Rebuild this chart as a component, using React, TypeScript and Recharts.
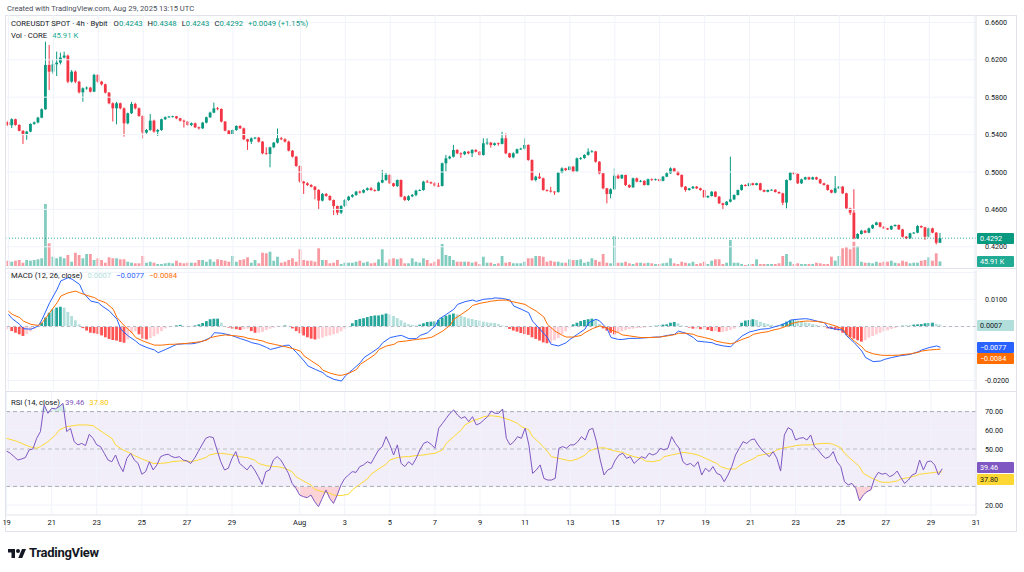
import React from "react";
import { ComposedChart, Bar, Line, Area, XAxis, YAxis, ReferenceLine, ReferenceArea, Cell } from "recharts";

const UP = "#089981";
const DOWN = "#f23645";
const GRID = "#f0f3fa";
const AXIS = "#e0e3eb";
const TEXT = "#131722";
const FONT = "Roboto, 'Liberation Sans', sans-serif";

// COREUSDT 4h candles, Jul 19 00:00 -> Aug 29 12:00
const opens = [
  0.5535, 0.5500, 0.5564, 0.5503, 0.5440, 0.5407, 0.5432, 0.5514, 0.5530, 0.5581,
  0.5671, 0.6145, 0.6073, 0.6152, 0.6170, 0.6223, 0.6245, 0.5966, 0.6073, 0.5966,
  0.5852, 0.5895, 0.5902, 0.5859, 0.6038, 0.5966, 0.5938, 0.5849, 0.5735, 0.5681,
  0.5735, 0.5681, 0.5521, 0.5628, 0.5728, 0.5681, 0.5599, 0.5421, 0.5449, 0.5549,
  0.5432, 0.5449, 0.5564, 0.5585, 0.5592, 0.5596, 0.5574, 0.5549, 0.5539, 0.5503,
  0.5521, 0.5478, 0.5467, 0.5528, 0.5585, 0.5635, 0.5681, 0.5674, 0.5539, 0.5442,
  0.5403, 0.5449, 0.5492, 0.5467, 0.5350, 0.5325, 0.5360, 0.5367, 0.5325, 0.5200,
  0.5193, 0.5264, 0.5314, 0.5360, 0.5350, 0.5325, 0.5228, 0.5164, 0.5064, 0.4897,
  0.4879, 0.4861, 0.4843, 0.4808, 0.4694, 0.4765, 0.4744, 0.4700, 0.4636, 0.4565,
  0.4636, 0.4700, 0.4736, 0.4754, 0.4790, 0.4780, 0.4807, 0.4825, 0.4807, 0.4800,
  0.4886, 0.4914, 0.4968, 0.4879, 0.4850, 0.4914, 0.4736, 0.4700, 0.4740, 0.4754,
  0.4800, 0.4807, 0.4897, 0.4890, 0.4879, 0.4854, 0.4850, 0.5093, 0.5146, 0.5164,
  0.5235, 0.5200, 0.5190, 0.5217, 0.5200, 0.5235, 0.5217, 0.5182, 0.5307, 0.5314,
  0.5289, 0.5307, 0.5300, 0.5360, 0.5200, 0.5157, 0.5200, 0.5243, 0.5250, 0.5289,
  0.5128, 0.4914, 0.4950, 0.4932, 0.4807, 0.4800, 0.4790, 0.4785, 0.4993, 0.5039,
  0.5021, 0.5057, 0.5004, 0.5146, 0.5150, 0.5182, 0.5217, 0.5220, 0.5110, 0.4986,
  0.4825, 0.4765, 0.4815, 0.4960, 0.4932, 0.4968, 0.4861, 0.4836, 0.4932, 0.4897,
  0.4905, 0.4861, 0.4922, 0.4914, 0.4922, 0.4905, 0.4950, 0.4986, 0.5039, 0.5004,
  0.4968, 0.4843, 0.4807, 0.4825, 0.4843, 0.4825, 0.4807, 0.4729, 0.4743, 0.4789,
  0.4736, 0.4665, 0.4647, 0.4682, 0.4707, 0.4754, 0.4807, 0.4861, 0.4850, 0.4879,
  0.4861, 0.4879, 0.4807, 0.4789, 0.4807, 0.4810, 0.4786, 0.4772, 0.4672, 0.4914,
  0.4993, 0.4979, 0.4879, 0.4921, 0.4943, 0.4921, 0.4943, 0.4921, 0.4879, 0.4861,
  0.4807, 0.4779, 0.4825, 0.4843, 0.4772, 0.4611, 0.4565, 0.4290, 0.4337, 0.4372,
  0.4351, 0.4397, 0.4433, 0.4460, 0.4415, 0.4397, 0.4386, 0.4422, 0.4433, 0.4386,
  0.4308, 0.4290, 0.4344, 0.4351, 0.4422, 0.4408, 0.4308, 0.4397, 0.4351, 0.4243,
];
const highs = [
  0.5548, 0.5575, 0.5570, 0.5510, 0.5448, 0.5440, 0.5520, 0.5540, 0.5590, 0.5680,
  0.6394, 0.6359, 0.6200, 0.6287, 0.6277, 0.6287, 0.6255, 0.6090, 0.6085, 0.5975,
  0.5905, 0.5915, 0.5910, 0.6050, 0.6045, 0.5975, 0.5945, 0.5855, 0.5745, 0.5750,
  0.5742, 0.5690, 0.5635, 0.5750, 0.5740, 0.5690, 0.5605, 0.5460, 0.5620, 0.5560,
  0.5460, 0.5570, 0.5595, 0.5600, 0.5602, 0.5600, 0.5580, 0.5560, 0.5545, 0.5530,
  0.5528, 0.5485, 0.5535, 0.5592, 0.5645, 0.5742, 0.5695, 0.5680, 0.5545, 0.5450,
  0.5455, 0.5500, 0.5500, 0.5475, 0.5355, 0.5370, 0.5375, 0.5375, 0.5330, 0.5264,
  0.5270, 0.5320, 0.5465, 0.5375, 0.5360, 0.5335, 0.5235, 0.5170, 0.5070, 0.4905,
  0.4890, 0.4870, 0.4850, 0.4815, 0.4775, 0.4775, 0.4750, 0.4705, 0.4640, 0.4645,
  0.4710, 0.4745, 0.4765, 0.4798, 0.4800, 0.4815, 0.4835, 0.4840, 0.4815, 0.4895,
  0.5021, 0.4990, 0.4975, 0.4885, 0.4920, 0.4920, 0.4745, 0.4750, 0.4765, 0.4810,
  0.4815, 0.4905, 0.4914, 0.4898, 0.4890, 0.4885, 0.5100, 0.5182, 0.5175, 0.5290,
  0.5245, 0.5210, 0.5225, 0.5225, 0.5245, 0.5245, 0.5225, 0.5360, 0.5360, 0.5320,
  0.5315, 0.5315, 0.5430, 0.5413, 0.5205, 0.5210, 0.5250, 0.5260, 0.5360, 0.5295,
  0.5135, 0.4960, 0.4990, 0.4940, 0.4815, 0.4843, 0.4795, 0.5000, 0.5050, 0.5045,
  0.5065, 0.5065, 0.5155, 0.5160, 0.5190, 0.5253, 0.5235, 0.5225, 0.5115, 0.4990,
  0.4830, 0.4825, 0.5039, 0.4975, 0.4975, 0.4972, 0.4868, 0.4940, 0.4940, 0.4915,
  0.4912, 0.4930, 0.4930, 0.4930, 0.4928, 0.4958, 0.5000, 0.5050, 0.5045, 0.5010,
  0.4975, 0.4850, 0.4830, 0.4850, 0.4850, 0.4832, 0.4812, 0.4750, 0.4795, 0.4795,
  0.4742, 0.4672, 0.4690, 0.5164, 0.4760, 0.4812, 0.4868, 0.4870, 0.4885, 0.4885,
  0.4885, 0.4885, 0.4812, 0.4812, 0.4815, 0.4815, 0.4792, 0.4778, 0.4920, 0.5000,
  0.5004, 0.4985, 0.4928, 0.4950, 0.4950, 0.4950, 0.4950, 0.4928, 0.4885, 0.4868,
  0.4812, 0.4957, 0.4850, 0.4850, 0.4778, 0.4618, 0.4815, 0.4345, 0.4380, 0.4378,
  0.4405, 0.4440, 0.4468, 0.4465, 0.4420, 0.4402, 0.4428, 0.4440, 0.4438, 0.4392,
  0.4315, 0.4350, 0.4358, 0.4430, 0.4428, 0.4414, 0.4405, 0.4404, 0.4357, 0.4348,
];
const lows = [
  0.5490, 0.5470, 0.5495, 0.5435, 0.5300, 0.5345, 0.5425, 0.5505, 0.5520, 0.5575,
  0.5665, 0.5877, 0.6050, 0.6027, 0.6150, 0.6215, 0.5950, 0.5955, 0.5950, 0.5840,
  0.5752, 0.5880, 0.5850, 0.5855, 0.5955, 0.5925, 0.5840, 0.5725, 0.5540, 0.5510,
  0.5670, 0.5378, 0.5510, 0.5620, 0.5670, 0.5590, 0.5360, 0.5410, 0.5440, 0.5420,
  0.5385, 0.5440, 0.5555, 0.5580, 0.5582, 0.5565, 0.5540, 0.5475, 0.5495, 0.5490,
  0.5470, 0.5455, 0.5460, 0.5520, 0.5578, 0.5628, 0.5660, 0.5530, 0.5435, 0.5395,
  0.5395, 0.5440, 0.5460, 0.5340, 0.5236, 0.5300, 0.5350, 0.5315, 0.5190, 0.5185,
  0.5050, 0.5255, 0.5305, 0.5340, 0.5315, 0.5220, 0.5155, 0.5055, 0.4885, 0.4765,
  0.4850, 0.4835, 0.4708, 0.4594, 0.4685, 0.4735, 0.4690, 0.4540, 0.4540, 0.4550,
  0.4625, 0.4690, 0.4725, 0.4745, 0.4770, 0.4772, 0.4800, 0.4800, 0.4790, 0.4795,
  0.4880, 0.4905, 0.4870, 0.4840, 0.4840, 0.4730, 0.4690, 0.4690, 0.4730, 0.4740,
  0.4795, 0.4800, 0.4885, 0.4870, 0.4845, 0.4840, 0.4845, 0.5004, 0.5135, 0.5155,
  0.5190, 0.5150, 0.5180, 0.5190, 0.5160, 0.5210, 0.5175, 0.5175, 0.5290, 0.5260,
  0.5280, 0.5280, 0.5295, 0.5190, 0.5150, 0.5146, 0.5195, 0.5235, 0.5240, 0.5120,
  0.4905, 0.4900, 0.4925, 0.4800, 0.4790, 0.4780, 0.4754, 0.4780, 0.4985, 0.5010,
  0.5015, 0.4995, 0.4998, 0.5128, 0.5140, 0.5175, 0.5210, 0.5100, 0.4975, 0.4815,
  0.4665, 0.4718, 0.4810, 0.4925, 0.4925, 0.4850, 0.4828, 0.4830, 0.4890, 0.4890,
  0.4855, 0.4855, 0.4905, 0.4908, 0.4898, 0.4900, 0.4945, 0.4980, 0.4998, 0.4960,
  0.4835, 0.4789, 0.4800, 0.4818, 0.4818, 0.4800, 0.4722, 0.4720, 0.4738, 0.4730,
  0.4658, 0.4593, 0.4640, 0.4675, 0.4700, 0.4748, 0.4800, 0.4845, 0.4845, 0.4855,
  0.4855, 0.4800, 0.4783, 0.4783, 0.4800, 0.4780, 0.4765, 0.4647, 0.4611, 0.4908,
  0.4970, 0.4872, 0.4872, 0.4915, 0.4915, 0.4915, 0.4915, 0.4872, 0.4855, 0.4800,
  0.4772, 0.4772, 0.4818, 0.4765, 0.4604, 0.4540, 0.4280, 0.4282, 0.4330, 0.4344,
  0.4345, 0.4390, 0.4428, 0.4408, 0.4390, 0.4380, 0.4380, 0.4415, 0.4380, 0.4300,
  0.4282, 0.4284, 0.4338, 0.4345, 0.4400, 0.4272, 0.4300, 0.4345, 0.4225, 0.4243,
];
const closes = [
  0.5500, 0.5564, 0.5503, 0.5440, 0.5407, 0.5432, 0.5514, 0.5530, 0.5581, 0.5671,
  0.6145, 0.6073, 0.6152, 0.6170, 0.6223, 0.6245, 0.5966, 0.6073, 0.5966, 0.5852,
  0.5895, 0.5902, 0.5859, 0.6038, 0.5966, 0.5938, 0.5849, 0.5735, 0.5681, 0.5735,
  0.5681, 0.5521, 0.5628, 0.5728, 0.5681, 0.5599, 0.5421, 0.5449, 0.5549, 0.5432,
  0.5449, 0.5564, 0.5585, 0.5592, 0.5596, 0.5574, 0.5549, 0.5539, 0.5503, 0.5521,
  0.5478, 0.5467, 0.5528, 0.5585, 0.5635, 0.5681, 0.5674, 0.5539, 0.5442, 0.5403,
  0.5449, 0.5492, 0.5467, 0.5350, 0.5325, 0.5360, 0.5367, 0.5325, 0.5200, 0.5193,
  0.5264, 0.5314, 0.5360, 0.5350, 0.5325, 0.5228, 0.5164, 0.5064, 0.4897, 0.4879,
  0.4861, 0.4843, 0.4808, 0.4694, 0.4765, 0.4744, 0.4700, 0.4636, 0.4565, 0.4636,
  0.4700, 0.4736, 0.4754, 0.4790, 0.4780, 0.4807, 0.4825, 0.4807, 0.4800, 0.4886,
  0.4914, 0.4968, 0.4879, 0.4850, 0.4914, 0.4736, 0.4700, 0.4740, 0.4754, 0.4800,
  0.4807, 0.4897, 0.4890, 0.4879, 0.4854, 0.4850, 0.5093, 0.5146, 0.5164, 0.5235,
  0.5200, 0.5190, 0.5217, 0.5200, 0.5235, 0.5217, 0.5182, 0.5307, 0.5314, 0.5289,
  0.5307, 0.5300, 0.5360, 0.5200, 0.5157, 0.5200, 0.5243, 0.5250, 0.5289, 0.5128,
  0.4914, 0.4950, 0.4932, 0.4807, 0.4800, 0.4790, 0.4785, 0.4993, 0.5039, 0.5021,
  0.5057, 0.5004, 0.5146, 0.5150, 0.5182, 0.5217, 0.5220, 0.5110, 0.4986, 0.4825,
  0.4765, 0.4815, 0.4960, 0.4932, 0.4968, 0.4861, 0.4836, 0.4932, 0.4897, 0.4905,
  0.4861, 0.4922, 0.4914, 0.4922, 0.4905, 0.4950, 0.4986, 0.5039, 0.5004, 0.4968,
  0.4843, 0.4807, 0.4825, 0.4843, 0.4825, 0.4807, 0.4729, 0.4743, 0.4789, 0.4736,
  0.4665, 0.4647, 0.4682, 0.4707, 0.4754, 0.4807, 0.4861, 0.4850, 0.4879, 0.4861,
  0.4879, 0.4807, 0.4789, 0.4807, 0.4810, 0.4786, 0.4772, 0.4672, 0.4914, 0.4993,
  0.4979, 0.4879, 0.4921, 0.4943, 0.4921, 0.4943, 0.4921, 0.4879, 0.4861, 0.4807,
  0.4779, 0.4825, 0.4843, 0.4772, 0.4611, 0.4565, 0.4290, 0.4337, 0.4372, 0.4351,
  0.4397, 0.4433, 0.4460, 0.4415, 0.4397, 0.4386, 0.4422, 0.4433, 0.4386, 0.4308,
  0.4290, 0.4344, 0.4351, 0.4422, 0.4408, 0.4308, 0.4397, 0.4351, 0.4243, 0.4292,
];
// volume, thousands of CORE
const volumes = [
  53, 43, 53, 60, 33, 60, 53, 60, 67, 77,
  620, 227, 93, 77, 93, 77, 110, 43, 133, 110,
  77, 120, 120, 60, 77, 60, 33, 87, 77, 77,
  67, 67, 43, 33, 27, 27, 100, 33, 43, 33,
  20, 20, 27, 33, 27, 53, 33, 27, 33, 33,
  33, 60, 60, 43, 67, 43, 67, 60, 53, 43,
  100, 43, 60, 67, 87, 33, 60, 27, 133, 127,
  143, 53, 93, 33, 43, 60, 77, 43, 167, 60,
  53, 53, 43, 177, 60, 60, 27, 33, 60, 20,
  33, 33, 33, 43, 53, 33, 43, 27, 33, 67,
  167, 33, 67, 77, 67, 77, 27, 27, 77, 43,
  33, 77, 60, 27, 43, 67, 220, 110, 100, 60,
  43, 43, 43, 43, 33, 43, 20, 93, 33, 33,
  20, 27, 100, 33, 40, 27, 27, 27, 43, 77,
  77, 100, 100, 93, 43, 53, 43, 43, 33, 33,
  67, 60, 60, 67, 33, 43, 77, 60, 43, 120,
  33, 27, 300, 33, 33, 43, 27, 20, 33, 33,
  27, 33, 27, 20, 20, 27, 33, 77, 27, 20,
  43, 33, 27, 43, 20, 27, 43, 20, 53, 67,
  67, 20, 33, 260, 33, 33, 20, 10, 20, 20,
  67, 20, 20, 20, 20, 20, 27, 100, 120, 43,
  20, 27, 20, 20, 20, 20, 33, 27, 20, 20,
  93, 53, 100, 177, 187, 167, 243, 200, 43, 33,
  33, 27, 43, 33, 43, 43, 53, 33, 27, 53,
  43, 27, 33, 33, 53, 60, 87, 53, 127, 45.91,
];
const macdHist = [
  -0.0010, -0.0017, -0.0023, -0.0029, -0.0035, -0.0028, -0.0018, -0.0010, -0.0001, 0.0014,
  0.0033, 0.0051, 0.0064, 0.0070, 0.0073, 0.0070, 0.0054, 0.0039, 0.0023, 0.0008,
  -0.0006, -0.0015, -0.0023, -0.0025, -0.0028, -0.0033, -0.0040, -0.0046, -0.0050, -0.0052,
  -0.0057, -0.0060, -0.0048, -0.0025, -0.0018, -0.0029, -0.0045, -0.0048, -0.0043, -0.0036,
  -0.0027, -0.0017, -0.0007, -0.0002, 0.0002, 0.0004, 0.0006, 0.0002, 0.0002, 0.0002,
  0.0004, 0.0008, 0.0013, 0.0020, 0.0027, 0.0029, 0.0029, 0.0014, -0.0001, -0.0004,
  -0.0008, -0.0010, -0.0013, -0.0010, -0.0008, -0.0017, -0.0023, -0.0023, -0.0020, -0.0013,
  -0.0008, -0.0004, -0.0002, 0.0002, 0.0004, 0.0002, -0.0007, -0.0017, -0.0025, -0.0033,
  -0.0040, -0.0045, -0.0048, -0.0045, -0.0041, -0.0036, -0.0033, -0.0029, -0.0025, -0.0018,
  -0.0008, -0.0001, 0.0012, 0.0024, 0.0028, 0.0031, 0.0035, 0.0039, 0.0041, 0.0041,
  0.0044, 0.0048, 0.0045, 0.0039, 0.0031, 0.0023, 0.0015, 0.0009, 0.0006, 0.0004,
  0.0007, 0.0012, 0.0017, 0.0018, 0.0019, 0.0024, 0.0033, 0.0040, 0.0044, 0.0048,
  0.0045, 0.0040, 0.0035, 0.0030, 0.0028, 0.0024, 0.0022, 0.0018, 0.0015, 0.0014,
  0.0013, 0.0009, 0.0004, -0.0002, -0.0009, -0.0015, -0.0019, -0.0024, -0.0028, -0.0031,
  -0.0040, -0.0046, -0.0052, -0.0059, -0.0062, -0.0060, -0.0051, -0.0043, -0.0030, -0.0018,
  -0.0004, 0.0008, 0.0014, 0.0020, 0.0024, 0.0027, 0.0029, 0.0024, 0.0009, -0.0007,
  -0.0015, -0.0023, -0.0029, -0.0023, -0.0018, -0.0013, -0.0010, -0.0008, -0.0006, -0.0006,
  -0.0004, -0.0002, 0.0002, 0.0003, 0.0004, 0.0007, 0.0008, 0.0014, 0.0017, 0.0012,
  0.0004, 0.0002, -0.0004, -0.0008, -0.0008, -0.0010, -0.0010, -0.0013, -0.0017, -0.0017,
  -0.0020, -0.0020, -0.0017, -0.0013, -0.0008, 0.0002, 0.0014, 0.0022, 0.0024, 0.0027,
  0.0024, 0.0018, 0.0013, 0.0009, 0.0006, 0.0003, 0.0003, 0.0010, 0.0018, 0.0023,
  0.0024, 0.0022, 0.0018, 0.0015, 0.0013, 0.0009, 0.0006, 0.0003, -0.0002, -0.0007,
  -0.0009, -0.0012, -0.0015, -0.0023, -0.0031, -0.0039, -0.0045, -0.0051, -0.0056, -0.0051,
  -0.0041, -0.0035, -0.0029, -0.0023, -0.0018, -0.0014, -0.0009, -0.0006, -0.0001, 0.0003,
  0.0003, 0.0003, 0.0007, 0.0008, 0.0009, 0.0012, 0.0013, 0.0014, 0.0009, 0.0007,
];
// [candle index, value] read along the MACD and signal lines
const macdLine = [
  [0, 0.0045], [1, 0.0029], [3, 0.0008], [4, -0.0008], [6, -0.0010], [8, 0.0002], [9, 0.0027], [11, 0.0088],
  [13, 0.0138], [14, 0.0169], [16, 0.0181], [17, 0.0175], [19, 0.0156], [20, 0.0125], [22, 0.0094], [24, 0.0088],
  [25, 0.0076], [27, 0.0057], [29, 0.0027], [30, -0.0010], [32, -0.0035], [34, -0.0054], [35, -0.0066], [37, -0.0078],
  [39, -0.0087], [40, -0.0097], [42, -0.0085], [44, -0.0072], [45, -0.0066], [47, -0.0064], [49, -0.0064], [50, -0.0062],
  [52, -0.0054], [54, -0.0041], [55, -0.0023], [57, -0.0025], [59, -0.0031], [60, -0.0035], [62, -0.0045], [64, -0.0054],
  [65, -0.0060], [67, -0.0066], [69, -0.0078], [70, -0.0085], [72, -0.0078], [74, -0.0070], [75, -0.0069], [77, -0.0097],
  [79, -0.0128], [80, -0.0146], [82, -0.0159], [84, -0.0171], [85, -0.0183], [87, -0.0196], [89, -0.0202], [90, -0.0183],
  [92, -0.0159], [94, -0.0134], [95, -0.0115], [97, -0.0097], [99, -0.0078], [100, -0.0060], [102, -0.0041], [104, -0.0035],
  [105, -0.0033], [107, -0.0045], [109, -0.0045], [110, -0.0033], [112, -0.0023], [114, 0.0002], [115, 0.0027], [117, 0.0045],
  [119, 0.0064], [120, 0.0082], [122, 0.0092], [124, 0.0098], [125, 0.0093], [127, 0.0101], [129, 0.0103], [130, 0.0106],
  [132, 0.0104], [134, 0.0098], [135, 0.0076], [137, 0.0064], [139, 0.0051], [140, 0.0020], [142, -0.0010], [144, -0.0041],
  [145, -0.0066], [147, -0.0072], [149, -0.0060], [150, -0.0048], [152, -0.0029], [154, -0.0010], [155, 0.0014], [157, 0.0027],
  [158, 0.0020], [160, -0.0010], [161, -0.0041], [163, -0.0048], [164, -0.0048], [166, -0.0044], [168, -0.0044], [169, -0.0043],
  [171, -0.0041], [173, -0.0039], [174, -0.0039], [176, -0.0033], [178, -0.0029], [179, -0.0017], [181, -0.0025], [183, -0.0041],
  [184, -0.0054], [186, -0.0057], [188, -0.0060], [189, -0.0066], [191, -0.0072], [193, -0.0075], [194, -0.0060], [196, -0.0035],
  [198, -0.0020], [199, -0.0017], [201, -0.0010], [203, -0.0008], [204, -0.0004], [206, 0.0004], [208, 0.0014], [209, 0.0024],
  [211, 0.0027], [213, 0.0029], [214, 0.0027], [216, 0.0020], [218, 0.0014], [219, -0.0004], [221, -0.0010], [223, -0.0013],
  [224, -0.0035], [226, -0.0060], [228, -0.0091], [229, -0.0115], [231, -0.0130], [233, -0.0128], [234, -0.0122], [236, -0.0115],
  [238, -0.0109], [239, -0.0107], [241, -0.0103], [243, -0.0094], [244, -0.0087], [246, -0.0078], [248, -0.0072], [249, -0.0077],
];
const signalLine = [
  [0, 0.0057], [1, 0.0045], [3, 0.0033], [4, 0.0020], [6, 0.0008], [8, 0.0004], [9, 0.0014], [11, 0.0051],
  [13, 0.0088], [14, 0.0113], [16, 0.0125], [18, 0.0131], [19, 0.0125], [21, 0.0115], [23, 0.0107], [24, 0.0098],
  [26, 0.0088], [28, 0.0064], [29, 0.0033], [31, 0.0002], [33, -0.0023], [34, -0.0041], [36, -0.0054], [38, -0.0064],
  [39, -0.0069], [41, -0.0069], [43, -0.0066], [44, -0.0066], [46, -0.0064], [48, -0.0062], [49, -0.0060], [51, -0.0057],
  [53, -0.0050], [54, -0.0041], [56, -0.0035], [58, -0.0031], [59, -0.0033], [61, -0.0035], [63, -0.0039], [64, -0.0044],
  [66, -0.0048], [68, -0.0054], [69, -0.0060], [71, -0.0066], [73, -0.0072], [74, -0.0075], [76, -0.0082], [78, -0.0091],
  [79, -0.0109], [81, -0.0128], [83, -0.0146], [84, -0.0162], [86, -0.0173], [88, -0.0180], [89, -0.0181], [91, -0.0173],
  [93, -0.0159], [94, -0.0140], [96, -0.0122], [98, -0.0103], [99, -0.0085], [101, -0.0072], [103, -0.0066], [104, -0.0057],
  [106, -0.0054], [108, -0.0050], [109, -0.0048], [111, -0.0045], [113, -0.0040], [114, -0.0033], [116, -0.0017], [118, 0.0004],
  [119, 0.0027], [121, 0.0045], [123, 0.0064], [124, 0.0078], [126, 0.0086], [128, 0.0091], [129, 0.0094], [131, 0.0097],
  [133, 0.0098], [134, 0.0094], [136, 0.0088], [138, 0.0082], [139, 0.0073], [141, 0.0057], [143, 0.0036], [144, 0.0008],
  [146, -0.0017], [148, -0.0033], [149, -0.0039], [151, -0.0039], [153, -0.0033], [154, -0.0023], [156, -0.0008], [158, 0.0002],
  [159, -0.0001], [161, -0.0013], [163, -0.0023], [164, -0.0031], [166, -0.0035], [168, -0.0039], [169, -0.0041], [171, -0.0041],
  [173, -0.0040], [174, -0.0039], [176, -0.0035], [178, -0.0030], [179, -0.0025], [181, -0.0025], [183, -0.0029], [184, -0.0035],
  [186, -0.0041], [188, -0.0048], [189, -0.0054], [191, -0.0060], [193, -0.0064], [194, -0.0060], [196, -0.0048], [198, -0.0038],
  [199, -0.0029], [201, -0.0023], [203, -0.0019], [204, -0.0014], [206, -0.0008], [208, 0.0002], [209, 0.0010], [211, 0.0017],
  [213, 0.0020], [214, 0.0020], [216, 0.0019], [218, 0.0014], [219, 0.0010], [221, 0.0002], [223, -0.0010], [224, -0.0029],
  [226, -0.0054], [228, -0.0075], [229, -0.0091], [231, -0.0101], [233, -0.0106], [234, -0.0107], [236, -0.0107], [238, -0.0106],
  [239, -0.0104], [241, -0.0101], [243, -0.0096], [244, -0.0091], [246, -0.0087], [248, -0.0085], [249, -0.0084],
];
const rsiVals = [
  48.9, 47.7, 45.9, 44.1, 44.7, 45.4, 49.5, 50.0, 55.7, 59.3,
  73.6, 69.1, 71.8, 71.5, 72.7, 74.4, 59.3, 61.0, 53.9, 52.2,
  53.0, 51.8, 57.9, 55.7, 52.2, 51.3, 47.7, 44.1, 43.2, 46.8,
  41.5, 37.9, 45.0, 47.7, 44.1, 42.3, 36.5, 37.9, 43.2, 38.8,
  41.5, 45.9, 46.8, 47.2, 45.9, 45.4, 45.9, 44.1, 43.6, 42.3,
  45.0, 48.6, 52.2, 55.7, 56.6, 56.1, 49.5, 43.2, 38.8, 39.7,
  45.0, 48.6, 42.3, 40.6, 38.8, 41.5, 38.8, 35.2, 31.1, 37.9,
  38.8, 44.1, 45.9, 44.1, 40.6, 37.0, 31.6, 29.0, 25.4, 24.5,
  24.0, 25.4, 21.8, 19.2, 23.6, 28.1, 23.6, 20.9, 25.4, 30.8,
  34.3, 36.1, 37.9, 37.5, 40.6, 41.5, 43.2, 42.3, 45.9, 49.5,
  51.3, 56.6, 52.2, 46.8, 52.2, 42.3, 40.6, 43.2, 41.5, 45.0,
  49.5, 53.0, 53.9, 52.5, 50.4, 61.1, 63.7, 66.4, 69.1, 70.9,
  68.2, 66.4, 67.3, 64.6, 67.3, 62.9, 63.7, 65.5, 67.3, 70.3,
  69.1, 69.1, 71.4, 55.7, 52.2, 53.9, 56.6, 55.7, 61.1, 52.2,
  37.0, 38.8, 41.5, 34.3, 33.4, 33.4, 34.3, 50.4, 51.3, 50.4,
  52.2, 52.2, 53.9, 56.6, 54.8, 60.2, 61.1, 53.9, 44.1, 36.1,
  38.8, 39.7, 44.1, 46.8, 47.7, 45.0, 45.9, 42.3, 44.1, 45.9,
  45.0, 47.7, 46.8, 47.7, 50.4, 49.5, 50.4, 56.6, 53.0, 50.4,
  43.2, 41.5, 42.3, 40.6, 43.2, 36.1, 39.7, 37.9, 40.6, 37.0,
  36.1, 32.5, 36.1, 40.6, 46.8, 50.4, 53.9, 53.0, 54.8, 55.4,
  52.2, 49.5, 47.7, 45.9, 48.6, 45.0, 38.2, 57.5, 61.4, 60.2,
  54.8, 55.7, 56.1, 54.8, 57.5, 51.3, 49.5, 46.8, 45.0, 45.9,
  48.6, 43.2, 40.6, 32.5, 30.8, 31.6, 29.0, 22.2, 25.4, 27.2,
  28.1, 34.3, 37.5, 36.5, 37.0, 35.2, 36.1, 38.2, 34.7, 31.6,
  33.4, 36.1, 37.0, 44.1, 38.8, 43.2, 43.6, 41.5, 36.1, 39.46,
];
// [candle index, value] read along the RSI-based MA
const rsiMa = [
  [0, 55.7], [3, 53.9], [6, 51.3], [8, 50.4], [9, 51.3], [11, 53.9], [13, 57.5], [14, 60.2], [16, 62.0], [18, 62.5],
  [19, 62.9], [21, 62.9], [23, 62.5], [24, 61.1], [26, 58.4], [28, 55.7], [29, 52.2], [31, 49.5], [33, 47.7], [34, 46.5],
  [36, 44.7], [38, 43.2], [39, 42.3], [41, 42.3], [43, 42.7], [44, 43.2], [46, 43.6], [48, 43.6], [49, 43.2], [51, 44.1],
  [53, 45.4], [54, 46.8], [56, 47.7], [57, 47.7], [59, 47.2], [61, 46.5], [62, 45.9], [64, 45.4], [66, 44.1], [67, 42.3],
  [69, 41.1], [71, 40.6], [72, 40.6], [74, 39.7], [76, 37.9], [77, 35.2], [79, 32.9], [81, 30.8], [82, 28.4], [84, 27.2],
  [86, 26.3], [87, 25.4], [89, 25.1], [91, 25.8], [92, 28.1], [94, 31.1], [96, 34.0], [97, 36.5], [99, 39.3], [101, 41.8],
  [102, 44.1], [104, 45.4], [106, 45.9], [107, 45.9], [109, 46.5], [111, 46.8], [112, 47.2], [114, 47.7], [116, 49.5], [117, 53.0],
  [119, 56.6], [121, 60.2], [122, 62.9], [124, 65.0], [126, 66.4], [127, 67.3], [129, 67.8], [131, 67.3], [132, 66.8], [134, 65.5],
  [136, 63.7], [137, 62.0], [139, 60.2], [140, 56.6], [142, 53.0], [144, 48.6], [145, 45.9], [147, 45.0], [149, 44.1], [150, 43.6],
  [152, 44.7], [154, 46.8], [155, 48.9], [157, 50.4], [159, 50.7], [160, 50.0], [162, 48.9], [164, 48.2], [165, 47.2], [167, 45.9],
  [169, 45.0], [170, 43.6], [172, 43.2], [174, 44.1], [175, 45.9], [177, 46.8], [179, 47.7], [180, 48.2], [182, 47.7], [184, 46.8],
  [185, 45.9], [187, 44.1], [189, 42.3], [190, 40.6], [192, 39.3], [194, 39.3], [195, 41.1], [197, 43.2], [199, 45.0], [200, 46.5],
  [202, 47.2], [204, 48.2], [205, 49.5], [207, 50.7], [209, 51.3], [210, 51.8], [212, 52.2], [214, 52.2], [215, 52.5], [217, 53.0],
  [219, 53.0], [220, 52.5], [222, 50.7], [223, 47.7], [225, 44.1], [227, 40.6], [228, 37.0], [230, 34.7], [232, 32.9], [233, 32.2],
  [235, 32.2], [237, 32.9], [238, 34.0], [240, 34.7], [242, 35.7], [243, 36.5], [245, 37.0], [247, 37.5], [249, 37.8],
];

const dayTicks = [0, 12, 24, 36, 48, 60, 78, 90, 102, 114, 126, 138, 150, 162, 174, 186, 198, 210, 222, 234, 246, 258];
const dayLabels = ["19", "21", "23", "25", "27", "29", "Aug", "3", "5", "7", "9", "11", "13", "15", "17", "19", "21", "23", "25", "27", "29", "31"];
const priceTicks = [0.42, 0.46, 0.5, 0.54, 0.58, 0.62, 0.66];
const macdTicks = [0.02, 0.01, -0.02];
const rsiTicks = [70, 60, 50, 20];
const SLOTS = 259;

const rows: any[] = Array.from({ length: SLOTS }, (_, i) => {
  const r: any = { i };
  if (i < closes.length) {
    r.o = opens[i];
    r.h = highs[i];
    r.l = lows[i];
    r.c = closes[i];
    r.range = [lows[i], highs[i]];
    r.v = volumes[i];
    r.hist = macdHist[i];
    r.rsi = rsiVals[i];
  }
  return r;
});
macdLine.forEach(([i, v]) => (rows[i].macd = v));
signalLine.forEach(([i, v]) => (rows[i].sig = v));
rsiMa.forEach(([i, v]) => (rows[i].ma = v));

const histColor = (i: number) => {
  const h = macdHist[i];
  const p = i > 0 ? macdHist[i - 1] : h;
  if (h >= 0) return h >= p ? "#26a69a" : "#b2dfdb";
  return h < p ? "#ff5252" : "#ffcdd2";
};

function Candle(props: any) {
  const { x, y, width, height, payload } = props;
  if (!payload || payload.o == null || y == null) return null;
  const { o, h, l, c } = payload;
  const color = c >= o ? UP : DOWN;
  const top = Math.min(y, y + height);
  const span = Math.abs(height);
  const k = h > l ? span / (h - l) : 0;
  const yOf = (v: number) => top + (h - v) * k;
  const bTop = yOf(Math.max(o, c));
  const bBot = yOf(Math.min(o, c));
  const cx = x + width / 2;
  return (
    <g>
      <line x1={cx} x2={cx} y1={top} y2={top + span} stroke={color} strokeWidth={1} />
      <rect x={x} y={bTop} width={width} height={Math.max(bBot - bTop, 0.8)} fill={color} />
    </g>
  );
}

const tickStyle = { fontSize: 7.2, fill: TEXT, fontFamily: FONT };
const MARGIN = { top: 0, right: 0, bottom: 0, left: 6.6 };

function Box({ top, bg, color = "#fff", children }: any) {
  return (
    <div
      style={{
        position: "absolute", left: 977, top: top - 5.5, width: 37, height: 11, background: bg, color,
        fontSize: 7.2, lineHeight: "11px", paddingLeft: 3, boxSizing: "border-box", borderRadius: 1,
      }}
    >
      {children}
    </div>
  );
}

function Legend({ top, items }: any) {
  return (
    <div style={{ position: "absolute", left: 11, top, fontSize: 7.7, lineHeight: "10px", whiteSpace: "nowrap" }}>
      {items.map(([t, col, gap]: any, k: number) => (
        <span key={k} style={{ color: col, marginLeft: gap ?? 0 }}>{t}</span>
      ))}
    </div>
  );
}

export default function App() {
  return (
    <div style={{ position: "absolute", left: 0, top: 0, width: 1024, height: 572, background: "#fff", fontFamily: FONT, color: TEXT, overflow: "hidden" }}>
      <div style={{ position: "absolute", left: 7, top: 4, fontSize: 7.6, color: "#4a4e59" }}>
        Created with TradingView.com, Aug 29, 2025 13:15 UTC
      </div>
      <div style={{ position: "absolute", left: 5, top: 15, width: 1012, height: 517, border: `1px solid ${AXIS}`, boxSizing: "border-box" }} />

      {/* price + volume */}
      <div style={{ position: "absolute", left: 0, top: 15 }}>
        <ComposedChart width={1024} height={253} data={rows} margin={MARGIN}>
          <XAxis xAxisId="c" dataKey="i" type="category" hide />
          <XAxis xAxisId="v" dataKey="i" type="category" hide />
          <YAxis yAxisId="p" orientation="right" width={48} domain={[0.3973, 0.6679]} ticks={priceTicks} allowDataOverflow
            tickFormatter={(v: number) => v.toFixed(4)} axisLine={{ stroke: AXIS }} tickLine={false} tickMargin={3} tick={tickStyle} />
          <YAxis yAxisId="vol" hide domain={[-20, 2510]} allowDataOverflow />
          {priceTicks.map((t) => (
            <ReferenceLine key={"h" + t} xAxisId="c" yAxisId="p" y={t} stroke={GRID} />
          ))}
          {dayTicks.map((t) => (
            <ReferenceLine key={"v" + t} xAxisId="c" yAxisId="p" x={t} stroke={GRID} />
          ))}
          <Bar xAxisId="v" yAxisId="vol" dataKey="v" barSize={2.8} isAnimationActive={false}>
            {rows.map((r, k) => (
              <Cell key={k} fill={r.c >= r.o ? "rgba(8,153,129,0.5)" : "rgba(242,54,69,0.5)"} />
            ))}
          </Bar>
          <ReferenceLine xAxisId="c" yAxisId="p" y={0.4292} stroke={UP} strokeDasharray="1 2" strokeOpacity={0.8} />
          <Bar xAxisId="c" yAxisId="p" dataKey="range" barSize={2.8} isAnimationActive={false} shape={(p: any) => <Candle {...p} />} />
        </ComposedChart>
      </div>
      <Legend top={19} items={[
        ["COREUSDT SPOT · 4h · Bybit", TEXT], ["O", TEXT, 6], ["0.4243", UP], ["H", TEXT, 5], ["0.4348", UP],
        ["L", TEXT, 5], ["0.4243", UP], ["C", TEXT, 5], ["0.4292", UP], ["+0.0049 (+1.15%)", UP, 5],
      ]} />
      <Legend top={31} items={[["Vol · CORE", TEXT], ["45.91 K", "#22ab94", 5]]} />
      <Box top={238} bg={UP}>0.4292</Box>
      <Box top={261} bg="#22ab94">45.91 K</Box>

      <div style={{ position: "absolute", left: 5, top: 268, width: 1012, height: 1, background: AXIS }} />

      {/* MACD */}
      <div style={{ position: "absolute", left: 0, top: 270 }}>
        <ComposedChart width={1024} height={120} data={rows} margin={MARGIN}>
          <XAxis dataKey="i" type="category" hide />
          <YAxis orientation="right" width={48} domain={[-0.02352, 0.02093]} ticks={macdTicks} allowDataOverflow
            tickFormatter={(v: number) => v.toFixed(4)} axisLine={{ stroke: AXIS }} tickLine={false} tickMargin={3} tick={tickStyle} />
          {[0.02, 0.01, 0, -0.01, -0.02].map((t) => (
            <ReferenceLine key={"h" + t} y={t} stroke={GRID} />
          ))}
          {dayTicks.map((t) => (
            <ReferenceLine key={"v" + t} x={t} stroke={GRID} />
          ))}
          <ReferenceLine y={0} stroke="#9598a1" strokeDasharray="3 3" strokeOpacity={0.6} />
          <Bar dataKey="hist" barSize={2.8} isAnimationActive={false}>
            {rows.map((r, k) => (
              <Cell key={k} fill={k < macdHist.length ? histColor(k) : "none"} />
            ))}
          </Bar>
          <Line dataKey="macd" stroke="#2962ff" strokeWidth={1} dot={false} connectNulls isAnimationActive={false} />
          <Line dataKey="sig" stroke="#ff6d00" strokeWidth={1} dot={false} connectNulls isAnimationActive={false} />
        </ComposedChart>
      </div>
      <Legend top={271} items={[
        ["MACD (12, 26, close)", TEXT], ["0.0007", "#b2dfdb", 5], ["−0.0077", "#2962ff", 5], ["−0.0084", "#ff6d00", 5],
      ]} />
      <Box top={325} bg="#b2dfdb" color={TEXT}>0.0007</Box>
      <Box top={347} bg="#2962ff">−0.0077</Box>
      <Box top={358} bg="#ff6d00">−0.0084</Box>

      <div style={{ position: "absolute", left: 5, top: 391, width: 1012, height: 1, background: AXIS }} />

      {/* RSI + time axis */}
      <div style={{ position: "absolute", left: 0, top: 392 }}>
        <ComposedChart width={1024} height={140} data={rows} margin={MARGIN}>
          <XAxis dataKey="i" type="category" ticks={dayTicks} interval={0} height={17} tickSize={0} tickMargin={5}
            tickFormatter={(v: number) => dayLabels[dayTicks.indexOf(v)] ?? ""} axisLine={{ stroke: AXIS }} tickLine={false}
            tick={{ ...tickStyle, fontSize: 7.5 }} />
          <YAxis orientation="right" width={48} domain={[14.71, 80.48]} ticks={rsiTicks} allowDataOverflow
            tickFormatter={(v: number) => v.toFixed(2)} axisLine={{ stroke: AXIS }} tickLine={false} tickMargin={3} tick={tickStyle} />
          {[70, 60, 50, 40, 30, 20].map((t) => (
            <ReferenceLine key={"h" + t} y={t} stroke={GRID} />
          ))}
          {dayTicks.map((t) => (
            <ReferenceLine key={"v" + t} x={t} stroke={GRID} />
          ))}
          <ReferenceArea y1={30} y2={70} fill="#7e57c2" fillOpacity={0.1} stroke="none" />
          <ReferenceLine y={70} stroke="#787b86" strokeDasharray="4 3" strokeOpacity={0.6} />
          <ReferenceLine y={50} stroke="#787b86" strokeDasharray="4 3" strokeOpacity={0.45} />
          <ReferenceLine y={30} stroke="#787b86" strokeDasharray="4 3" strokeOpacity={0.6} />
          <Area dataKey={(d: any) => (d.rsi == null ? null : [Math.min(d.rsi, 30), 30])} stroke="none" fill="#f23645"
            fillOpacity={0.22} isAnimationActive={false} />
          <Area dataKey={(d: any) => (d.rsi == null ? null : [70, Math.max(d.rsi, 70)])} stroke="none" fill="#089981"
            fillOpacity={0.18} isAnimationActive={false} />
          <Line dataKey="ma" stroke="#fdd835" strokeWidth={1} dot={false} connectNulls isAnimationActive={false} />
          <Line dataKey="rsi" stroke="#7e57c2" strokeWidth={1} dot={false} isAnimationActive={false} />
        </ComposedChart>
      </div>
      <Legend top={398} items={[["RSI (14, close)", TEXT], ["39.46", "#7e57c2", 5], ["37.80", "#f7c600", 5]]} />
      <Box top={467} bg="#7e57c2">39.46</Box>
      <Box top={479} bg="#fdd835" color={TEXT}>37.80</Box>

      {/* logo */}
      <div style={{ position: "absolute", left: 8, top: 545, display: "flex", alignItems: "center" }}>
        <svg width="18" height="12" viewBox="0 0 36 24">
          <path d="M14 22H7V11H0V4h14v18Z" fill="#131722" />
          <circle cx="20" cy="8" r="4" fill="#131722" />
          <path d="M28.5 22h-8l7.5-18h8L28.5 22Z" fill="#131722" />
        </svg>
        <span style={{ marginLeft: 3, fontSize: 13, fontWeight: 700, letterSpacing: -0.3, color: TEXT }}>TradingView</span>
      </div>
    </div>
  );
}
